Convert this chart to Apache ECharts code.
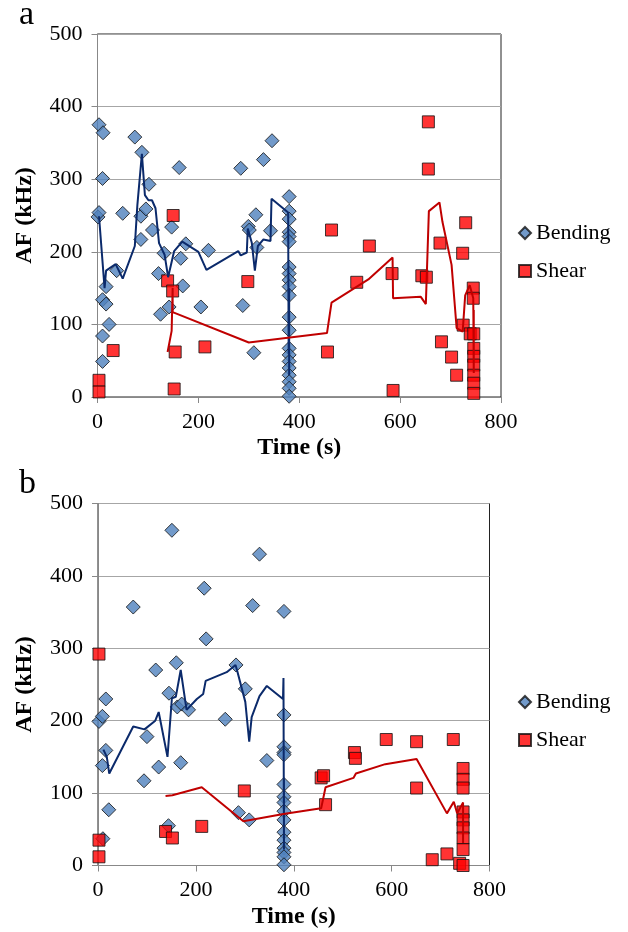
<!DOCTYPE html>
<html>
<head>
<meta charset="utf-8">
<script src="https://cdn.jsdelivr.net/npm/echarts@6/dist/echarts.min.js"></script>
<style>html,body{margin:0;padding:0;background:#fff}#c{width:628px;height:932px}</style>
</head>
<body>
<div id="c"></div>
<script>
// ---------- DATA ----------
var panelLabels = ['a', 'b'];
var seriesNames = ['Bending', 'Shear'];
var xTitle = 'Time (s)';
var yTitle = 'AF (kHz)';

// Panel a
var bendingA = [[1,248],[3,254],[3,375],[11,364],[10,301],[17,152],[10,134],[17,128],[23,100],[10,84],[10,49],
  [38,174],[50,253],[74,358],[88,337],[86,249],[86,217],[96,259],[102,293],[109,230],[121,170],[125,114],
  [132,198],[142,124],[147,234],[162,316],[165,191],[169,153],[175,211],[205,124],[220,202],[284,315],
  [288,126],[299,235],[301,230],[310,61],[314,251],[316,206],[329,327],[343,229],[346,353],
  [380,276],[380,256],[380,245],[380,227],[380,221],[380,214],[380,179],[380,170],[380,161],[380,152],
  [380,140],[380,110],[380,92],[380,67],[380,58],[380,49],[380,40],[380,30],[380,21],[380,12],[380,1]];
var shearA = [[3,23],[3,7],[31,64],[139,160],[149,146],[150,250],[154,62],[152,11],[213,69],[298,159],
  [456,62],[464,230],[514,158],[539,208],[584,170],[586,9],[643,167],[652,165],[656,379],[656,314],
  [679,212],[682,76],[702,55],[712,30],[724,198],[725,99],[730,240],[739,87],[745,150],[745,136],
  [746,87],[746,67],[746,56],[746,44],[746,30],[746,19],[746,5]];
var bendingTrendA = [[3,249],[14,150],[17,174],[36,183],[50,163],[74,208],[79,264],[88,335],[94,278],
  [101,271],[108,271],[115,260],[122,212],[133,196],[140,165],[143,165],[152,201],[168,214],[200,200],
  [216,175],[279,201],[284,195],[296,199],[298,232],[306,212],[312,174],[318,208],[329,217],[343,215],
  [345,273],[378,254],[379,60],[380,150],[380,30],[380,100]];
var shearTrendA = [[139,62],[147,91],[149,150],[149,117],[300,75],[455,88],[464,130],[537,162],[585,192],
  [586,136],[641,138],[651,128],[657,256],[678,268],[684,241],[702,182],[712,95],[724,90],[729,140],
  [738,154],[745,136],[746,33],[746,120],[746,60]];

// Panel b
var bendingB = [[2,199],[9,206],[16,230],[16,159],[9,138],[22,77],[10,37],[72,357],[94,117],[100,178],
  [118,270],[124,136],[144,55],[145,238],[151,463],[160,280],[162,219],[169,142],[171,223],[185,215],
  [217,383],[221,313],[260,202],[282,277],[287,73],[301,244],[309,63],[316,359],[330,430],[345,145],
  [380,351],[380,208],[380,164],[380,156],[380,153],[380,112],[380,95],[380,87],[380,75],[380,63],
  [380,46],[380,35],[380,24],[380,18],[380,12],[380,1]];
var shearB = [[2,292],[2,35],[2,12],[138,47],[152,38],[212,54],[299,103],[456,121],[461,124],[465,84],
  [524,156],[526,148],[589,174],[651,171],[651,107],[683,8],[713,16],[726,174],[739,3],
  [746,134],[746,119],[746,107],[746,74],[746,63],[746,52],[746,38],[746,22],[746,0]];
var bendingTrendB = [[11,160],[18,150],[23,127],[72,192],[95,188],[117,200],[124,212],[142,150],[151,231],
  [159,233],[169,270],[181,215],[202,230],[215,237],[220,255],[263,267],[281,277],[284,270],[301,226],
  [309,171],[314,205],[330,234],[345,248],[378,230],[379,259],[380,22],[380,120],[380,40]];
var shearTrendB = [[138,96],[152,97],[212,108],[297,61],[379,71],[456,79],[465,108],[522,121],[527,127],
  [587,140],[651,147],[713,72],[727,88],[734,72],[746,87],[746,31],[746,80],[746,40]];

// ---------- STYLE ----------
var FONT = '"Liberation Serif", "Times New Roman", serif';
var BLUE = '#4F81BD', RED = '#FF0000', NAVY = '#0B2A6B', DARKRED = '#C00000';

function xAx(i) {
  return {
    gridIndex: i, type: 'value', min: 0, max: 800, interval: 200,
    name: xTitle, nameLocation: 'middle', nameGap: 39,
    nameTextStyle: { fontFamily: FONT, fontSize: 24, fontWeight: 'bold', color: '#000' },
    axisLine: { show: true, lineStyle: { color: '#888', width: 1 } },
    axisTick: { show: true, length: 6, inside: false, lineStyle: { color: '#888' } },
    axisLabel: { fontFamily: FONT, fontSize: 22, color: '#000', margin: 14 },
    splitLine: { show: false }
  };
}
function yAx(i) {
  return {
    gridIndex: i, type: 'value', min: 0, max: 500, interval: 100,
    name: yTitle, nameLocation: 'middle', nameGap: 61, nameRotate: 90,
    nameTextStyle: { fontFamily: FONT, fontSize: 24, fontWeight: 'bold', color: '#000' },
    axisLine: { show: true, lineStyle: { color: '#888', width: 1 } },
    axisTick: { show: true, length: 6, inside: false, lineStyle: { color: '#888' } },
    axisLabel: { fontFamily: FONT, fontSize: 22, color: '#000', margin: 15 },
    splitLine: { show: true, lineStyle: { color: '#A6A6A6', width: 1 } }
  };
}
function scat(name, data, i, isBend) {
  return {
    name: name, type: 'scatter', xAxisIndex: i, yAxisIndex: i, data: data,
    symbol: isBend ? 'diamond' : 'rect', symbolSize: isBend ? [14, 14] : [12, 12],
    itemStyle: { color: isBend ? BLUE : RED, borderColor: '#111', borderWidth: 1 },
    z: 3
  };
}
function trend(data, i, color) {
  return {
    type: 'line', xAxisIndex: i, yAxisIndex: i, data: data, showSymbol: false, symbol: 'none',
    lineStyle: { color: color, width: 2 }, z: 4, silent: true, animation: false
  };
}
function leg(top) {
  return {
    data: [
      { name: seriesNames[0], icon: 'diamond' },
      { name: seriesNames[1], icon: 'rect' }
    ],
    orient: 'vertical', left: 513, top: top, itemGap: 16, itemWidth: 12, itemHeight: 12,
    textStyle: { fontFamily: FONT, fontSize: 22, color: '#000' }
  };
}

var option = {
  animation: false,
  backgroundColor: '#fff',
  title: [
    { text: panelLabels[0], left: 14, top: -7, textStyle: { fontFamily: FONT, fontSize: 34, fontWeight: 'normal', color: '#000' } },
    { text: panelLabels[1], left: 14, top: 462, textStyle: { fontFamily: FONT, fontSize: 34, fontWeight: 'normal', color: '#000' } }
  ],
  legend: [leg(217), leg(686)],
  grid: [
    { left: 97.5, top: 34, width: 403.5, height: 363, show: true, borderColor: '#222', borderWidth: 1 },
    { left: 98, top: 503.5, width: 391.5, height: 362, show: true, borderColor: '#222', borderWidth: 1 }
  ],
  xAxis: [xAx(0), xAx(1)],
  yAxis: [yAx(0), yAx(1)],
  series: [
    scat(seriesNames[0], bendingA, 0, true),
    scat(seriesNames[1], shearA, 0, false),
    trend(bendingTrendA, 0, NAVY),
    trend(shearTrendA, 0, DARKRED),
    scat(seriesNames[0], bendingB, 1, true),
    scat(seriesNames[1], shearB, 1, false),
    trend(bendingTrendB, 1, NAVY),
    trend(shearTrendB, 1, DARKRED)
  ]
};
var chart = echarts.init(document.getElementById('c'), null, { renderer: 'canvas' });
chart.setOption(option);
</script>
</body>
</html>
